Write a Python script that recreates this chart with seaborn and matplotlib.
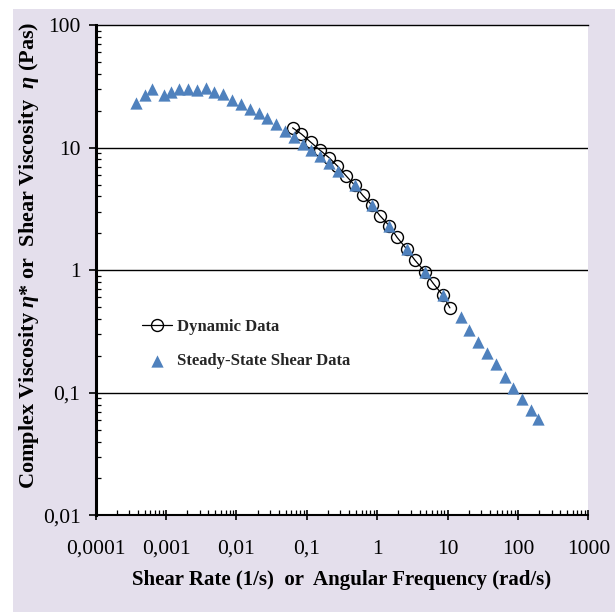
import numpy as np
import pandas as pd
import seaborn as sns
import matplotlib.pyplot as plt
from matplotlib.patches import Rectangle
from matplotlib.ticker import FixedLocator, NullFormatter

#######################################
# data
#######################################
# steady-state shear data (shear rate 1/s, viscosity Pas)
steady_rate = [0.00037, 0.00050, 0.00064, 0.00093, 0.00116, 0.00154, 0.00205, 0.00272,
               0.00369, 0.00484, 0.00649, 0.00871, 0.0116, 0.0156, 0.0207, 0.0274,
               0.0367, 0.0493, 0.0656, 0.0871, 0.1155, 0.1535, 0.206, 0.274,
               0.482, 0.849, 1.48, 2.67, 4.76, 8.49, 15.3, 20.3,
               27.2, 36.1, 48.5, 64.6, 85.5, 115, 151, 194]
steady_visc = [23.0, 26.9, 30.1, 26.9, 28.3, 30.1, 30.1, 29.3,
               30.5, 28.3, 27.2, 24.5, 22.8, 20.6, 19.0, 17.3,
               15.6, 13.7, 12.1, 10.8, 9.55, 8.54, 7.45, 6.48,
               4.95, 3.40, 2.31, 1.49, 0.972, 0.628, 0.413, 0.325,
               0.261, 0.210, 0.171, 0.135, 0.109, 0.089, 0.0724, 0.0611]

# dynamic data (angular frequency rad/s, complex viscosity Pas)
dyn_freq = [0.0628, 0.0838, 0.113, 0.153, 0.206, 0.272, 0.363, 0.482, 0.627, 0.841,
            1.09, 1.48, 1.92, 2.62, 3.43, 4.76, 6.24, 8.49, 10.8]
dyn_visc = [14.5, 12.9, 11.1, 9.55, 8.30, 7.08, 5.87, 4.91, 4.07, 3.40,
            2.79, 2.31, 1.85, 1.49, 1.21, 0.972, 0.782, 0.628, 0.493]

x_ticks = [0.0001, 0.001, 0.01, 0.1, 1, 10, 100, 1000]
x_tick_labels = ['0,0001', '0,001', '0,01', '0,1', '1', '10', '100', '1000']
y_ticks = [0.01, 0.1, 1, 10, 100]
y_tick_labels = ['0,01', '0,1', '1', '10', '100']

steady = pd.DataFrame({'rate': steady_rate, 'visc': steady_visc})
dynamic = pd.DataFrame({'freq': dyn_freq, 'visc': dyn_visc})

#######################################
# style
#######################################
sns.set_theme(style='white')
plt.rcParams['font.family'] = ['Liberation Serif', 'DejaVu Serif']
plt.rcParams['mathtext.fontset'] = 'custom'
plt.rcParams['mathtext.it'] = 'Liberation Serif:italic:bold'
plt.rcParams['mathtext.rm'] = 'Liberation Serif:bold'

lavender = '#E4DFEC'
blue = '#4F81BD'

fig = plt.figure(figsize=(6.15, 6.12), dpi=100)
fig.patch.set_facecolor('white')
fig.add_artist(Rectangle((12.5 / 615, 0), 1 - 12.5 / 615, 1 - 9 / 612,
                         transform=fig.transFigure, facecolor=lavender,
                         edgecolor='none', zorder=-10))

ax = fig.add_axes([95.7 / 615, 1 - 515.4 / 612, 492.6 / 615, 490.4 / 612])
ax.set_facecolor('white')

#######################################
# plot
#######################################
sns.lineplot(data=dynamic, x='freq', y='visc', ax=ax, color='black', linewidth=0.9,
             marker='o', markersize=8.6, markerfacecolor='none',
             markeredgecolor='black', markeredgewidth=1.0, label='Dynamic Data', zorder=2)
sns.scatterplot(data=steady, x='rate', y='visc', ax=ax, marker='^', s=78,
                color=blue, linewidth=0, label='Steady-State Shear Data', zorder=3)

ax.set_xscale('log')
ax.set_yscale('log')
ax.set_xlim(0.0001, 1000)
ax.set_ylim(0.01, 100)

ax.set_xticks(x_ticks, labels=x_tick_labels)
ax.set_yticks(y_ticks, labels=y_tick_labels)
minor_x = [m * 10.0 ** e for e in range(-4, 3) for m in range(2, 10)]
minor_y = [m * 10.0 ** e for e in range(-2, 2) for m in range(2, 10)]
ax.xaxis.set_minor_locator(FixedLocator(minor_x))
ax.yaxis.set_minor_locator(FixedLocator(minor_y))
ax.xaxis.set_minor_formatter(NullFormatter())
ax.yaxis.set_minor_formatter(NullFormatter())

ax.tick_params(axis='x', which='major', direction='inout', length=7, width=1.2,
               labelsize=15.5, pad=14, colors='black', bottom=True)
ax.tick_params(axis='x', which='minor', direction='in', length=3.5, width=0.9,
               bottom=True, colors='black')
ax.tick_params(axis='y', which='major', direction='out', length=5, width=1.2,
               labelsize=15.5, pad=6, colors='black', left=True)
ax.tick_params(axis='y', which='minor', direction='in', length=3.5, width=0.9,
               left=True, colors='black')

# horizontal gridlines at the decades
for yv in y_ticks[1:-1]:
    ax.axhline(yv, color='black', linewidth=1.0, zorder=0.5)

ax.spines['right'].set_visible(False)
ax.spines['top'].set_color('black')
ax.spines['top'].set_linewidth(1.0)
ax.spines['left'].set_color('black')
ax.spines['left'].set_linewidth(2.2)
ax.spines['bottom'].set_color('black')
ax.spines['bottom'].set_linewidth(1.5)

ax.set_xlabel('Shear Rate (1/s)  or  Angular Frequency (rad/s)', fontsize=15,
              fontweight='bold', color='black')
ax.set_ylabel(r'Complex Viscosity $\eta$* or  Shear Viscosity  $\eta$ (Pas)',
              fontsize=16, fontweight='bold', color='black')
ax.xaxis.set_label_coords(0.5, -0.111)
ax.yaxis.set_label_coords(-0.112, 0.53)

ax.legend(loc='center left', bbox_to_anchor=(0.094, 0.35), frameon=False,
          prop={'weight': 'bold', 'size': 12, 'family': 'Liberation Serif'},
          handlelength=1.8, handletextpad=0.3, labelspacing=1.1,
          borderpad=0, borderaxespad=0)

plt.savefig('out.png', dpi=100, facecolor=fig.get_facecolor())
